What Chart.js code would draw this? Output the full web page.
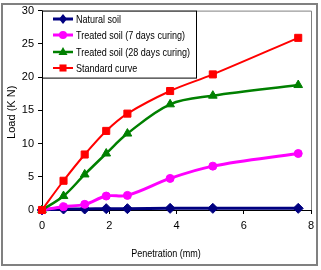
<!DOCTYPE html>
<html>
<head>
<meta charset="utf-8">
<script src="https://cdn.jsdelivr.net/npm/chart.js@4.4.1/dist/chart.umd.min.js"></script>
<style>
  html, body { margin: 0; padding: 0; background: #fff; }
  #wrap { width: 321px; height: 270px; position: relative; }
</style>
</head>
<body>
<div id="wrap"><canvas id="c" width="321" height="270"></canvas></div>
<script>
const penetration = [0, 0.64, 1.27, 1.91, 2.54, 3.81, 5.08, 7.62];
const naturalSoil = [0, 0.15, 0.15, 0.2, 0.2, 0.25, 0.25, 0.25];
const treated7 = [0, 0.5, 0.85, 2.1, 2.2, 4.75, 6.6, 8.5];
const treated28 = [0, 2.1, 5.35, 8.5, 11.5, 15.9, 17.2, 18.8];
const standardCurve = [0, 4.4, 8.35, 11.9, 14.5, 17.9, 20.4, 25.9];
const seriesLabels = ['Natural soil', 'Treated soil (7 days curing)', 'Treated soil (28 days curing)', 'Standard curve'];
const xTicks = [0, 2, 4, 6, 8];
const yTicks = [0, 5, 10, 15, 20, 25, 30];
const xTitle = 'Penetration (mm)';
const yTitle = 'Load (K N)';

const FONT = "'Liberation Sans', Arial, sans-serif";
const NARROW = 0.82;

function pts(ys) { return penetration.map((x, i) => ({ x: x, y: ys[i] })); }

const styles = [
  { color: '#000080', width: 3, point: 'rectRot', radius: 5, order: 4 },
  { color: '#FF00FF', width: 3, point: 'circle', radius: 4, order: 3 },
  { color: '#008000', width: 2.5, point: 'triangle', radius: 5, order: 2 },
  { color: '#FF0000', width: 2, point: 'rect', radius: 5, order: 1 }
];
const seriesData = [naturalSoil, treated7, treated28, standardCurve];

const datasets = seriesData.map((d, i) => ({
  label: seriesLabels[i],
  data: pts(d),
  borderColor: styles[i].color,
  backgroundColor: styles[i].color,
  borderWidth: styles[i].width,
  pointStyle: styles[i].point,
  pointRadius: styles[i].radius,
  pointBorderWidth: 1,
  pointBorderColor: styles[i].color,
  pointBackgroundColor: styles[i].color,
  tension: 0.35,
  clip: false,
  order: styles[i].order
}));

function drawMarker(ctx, style, x, y, r) {
  ctx.save();
  ctx.fillStyle = style.color;
  ctx.beginPath();
  if (style.point === 'circle') {
    ctx.arc(x, y, r, 0, Math.PI * 2);
  } else if (style.point === 'rect') {
    const s = r * Math.SQRT1_2;
    ctx.rect(x - s, y - s, 2 * s, 2 * s);
  } else if (style.point === 'rectRot') {
    ctx.moveTo(x, y - r); ctx.lineTo(x + r * 0.8, y); ctx.lineTo(x, y + r); ctx.lineTo(x - r * 0.8, y);
    ctx.closePath();
  } else if (style.point === 'triangle') {
    ctx.moveTo(x, y - r); ctx.lineTo(x + r * 0.9, y + r * 0.6); ctx.lineTo(x - r * 0.9, y + r * 0.6);
    ctx.closePath();
  }
  ctx.fill();
  ctx.restore();
}

function narrowText(ctx, text, x, y, align, sx) {
  ctx.save();
  ctx.translate(x, y);
  ctx.scale(sx, 1);
  ctx.textAlign = align;
  ctx.fillText(text, 0, 0);
  ctx.restore();
}

const decor = {
  id: 'decor',
  beforeDraw(chart) {
    const ctx = chart.ctx;
    ctx.save();
    ctx.fillStyle = '#fff';
    ctx.fillRect(0, 0, chart.width, chart.height);
    ctx.strokeStyle = '#808080';
    ctx.lineWidth = 2;
    ctx.strokeRect(2, 4, 315, 261);
    const a = chart.chartArea;
    ctx.lineWidth = 1;
    ctx.beginPath();
    ctx.moveTo(a.left, a.top + 0.5);
    ctx.lineTo(a.right + 0.5, a.top + 0.5);
    ctx.lineTo(a.right + 0.5, a.bottom);
    ctx.stroke();
    // axis titles
    ctx.fillStyle = '#000';
    ctx.font = '11px ' + FONT;
    ctx.textBaseline = 'middle';
    narrowText(ctx, xTitle, 166, 254, 'center', NARROW);
    ctx.translate(12, (a.top + a.bottom) / 2 + 2);
    ctx.rotate(-Math.PI / 2);
    narrowText(ctx, yTitle, 0, 0, 'center', 1);
    ctx.restore();
  },
  afterDraw(chart) {
    const ctx = chart.ctx;
    const a = chart.chartArea;
    ctx.save();
    const bx = a.left, by = a.top, bw = 154, bh = 67;
    ctx.fillStyle = '#fff';
    ctx.fillRect(bx, by, bw, bh);
    ctx.strokeStyle = '#000';
    ctx.lineWidth = 1;
    ctx.strokeRect(bx + 0.5, by + 0.5, bw, bh);
    const rows = [19, 35, 52, 68];
    ctx.font = '11px ' + FONT;
    ctx.textBaseline = 'middle';
    chart.data.datasets.forEach((ds, i) => {
      const y = rows[i];
      ctx.strokeStyle = styles[i].color;
      ctx.lineWidth = styles[i].width;
      ctx.beginPath();
      ctx.moveTo(53, y);
      ctx.lineTo(73, y);
      ctx.stroke();
      drawMarker(ctx, styles[i], 63, y, styles[i].radius);
      ctx.fillStyle = '#000';
      narrowText(ctx, ds.label, 76, y + 0.5, 'left', NARROW);
    });
    ctx.restore();
  }
};

new Chart(document.getElementById('c'), {
  type: 'line',
  data: { datasets: datasets },
  options: {
    responsive: false,
    animation: false,
    devicePixelRatio: 1,
    layout: { padding: { left: 0, top: 10, right: 10, bottom: 0 } },
    plugins: { legend: { display: false }, tooltip: { enabled: false } },
    scales: {
      x: {
        type: 'linear',
        min: 0, max: 8,
        afterBuildTicks(scale) { scale.ticks = xTicks.map(v => ({ value: v })); },
        afterFit(scale) { scale.height = 60; },
        grid: { display: true, drawOnChartArea: false, drawTicks: true, tickLength: 4, color: '#000', lineWidth: 1 },
        border: { display: true, color: '#000', width: 1 },
        ticks: { color: '#000', font: { family: FONT, size: 11 }, padding: 5, maxRotation: 0 },
        title: { display: false }
      },
      y: {
        type: 'linear',
        min: 0, max: 30,
        afterBuildTicks(scale) { scale.ticks = yTicks.map(v => ({ value: v })); },
        afterFit(scale) { scale.width = 42; },
        grid: { display: true, drawOnChartArea: false, drawTicks: true, tickLength: 4, color: '#000', lineWidth: 1 },
        border: { display: true, color: '#000', width: 1 },
        ticks: { color: '#000', font: { family: FONT, size: 11 }, padding: 4 },
        title: { display: false }
      }
    }
  },
  plugins: [decor]
});
</script>
</body>
</html>
